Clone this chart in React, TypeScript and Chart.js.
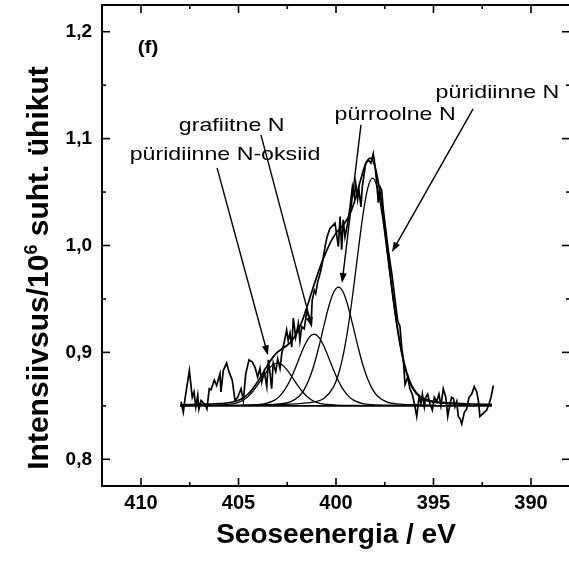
import React, { useEffect, useRef } from 'react';
import { Chart, registerables } from 'chart.js';

Chart.register(...registerables);

const FONT = '"Liberation Sans", Arial, Helvetica, sans-serif';

// Measured XPS N1s spectrum (binding energy, eV) and intensity (10^6 a.u.)
const spectrumEnergy = [
  407.95, 407.83, 407.74, 407.52, 407.37, 407.28, 407.19, 407.09, 407.03, 406.92,
  406.72, 406.62, 406.5, 406.41, 406.24, 406.12, 405.95, 405.9, 405.78, 405.61,
  405.49, 405.32, 405.18, 405.04, 404.87, 404.75, 404.63, 404.46, 404.29, 404.15,
  404.02, 403.9, 403.81, 403.68, 403.55, 403.47, 403.38, 403.3, 403.22, 403.09,
  402.99, 402.87, 402.78, 402.65, 402.53, 402.45, 402.36, 402.27, 402.19, 402.07,
  401.93, 401.85, 401.76, 401.63, 401.5, 401.38, 401.28, 401.22, 401.11, 401.04,
  400.94, 400.86, 400.77, 400.65, 400.56, 400.46, 400.31, 400.05, 399.88, 399.79,
  399.71, 399.63, 399.54, 399.4, 399.28, 399.16, 399.06, 398.99, 398.89, 398.82,
  398.72, 398.65, 398.55, 398.48, 398.34, 398.21, 398.09, 398.0, 397.91, 397.83,
  397.74, 397.66, 397.57, 397.49, 397.32, 397.14, 396.97, 396.84, 396.72, 396.63,
  396.55, 396.46, 396.32, 396.21, 396.09, 395.98, 395.86, 395.74, 395.64, 395.57,
  395.47, 395.4, 395.3, 395.18, 395.06, 394.96, 394.84, 394.72, 394.62, 394.5,
  394.37, 394.27, 394.15, 394.07, 393.98, 393.9, 393.81, 393.73, 393.64, 393.55,
  393.42, 393.3, 393.18, 393.04, 392.91, 392.78, 392.7, 392.62, 392.45, 392.27,
  392.15, 392.05, 391.93,
];
const spectrumIntensity = [
  0.854, 0.844, 0.857, 0.883, 0.858, 0.863, 0.849, 0.86, 0.847, 0.855,
  0.851, 0.847, 0.866, 0.865, 0.874, 0.869, 0.88, 0.863, 0.883, 0.89,
  0.882, 0.874, 0.855, 0.858, 0.866, 0.855, 0.88, 0.893, 0.891, 0.886,
  0.877, 0.885, 0.872, 0.882, 0.868, 0.893, 0.88, 0.866, 0.89, 0.882,
  0.894, 0.885, 0.899, 0.91, 0.921, 0.911, 0.918, 0.905, 0.932, 0.914,
  0.927, 0.911, 0.924, 0.922, 0.938, 0.933, 0.927, 0.949, 0.958, 0.955,
  0.966, 0.971, 0.977, 0.989, 0.999, 1.008, 1.016, 1.021, 0.999, 1.027,
  0.996, 1.024, 1.008, 1.021, 1.036, 1.055, 1.046, 1.058, 1.043, 1.052,
  1.036, 1.055, 1.068, 1.077, 1.08, 1.077, 1.086, 1.075, 1.058, 1.04,
  1.055, 1.052, 1.033, 1.021, 0.996, 0.974, 0.949, 0.93, 0.924, 0.905,
  0.893, 0.87, 0.877, 0.866, 0.861, 0.852, 0.84, 0.858, 0.852, 0.861,
  0.849, 0.858, 0.861, 0.852, 0.846, 0.858, 0.854, 0.861, 0.85, 0.866,
  0.858, 0.84, 0.852, 0.858, 0.857, 0.849, 0.854, 0.84, 0.838, 0.833,
  0.844, 0.847, 0.858, 0.861, 0.868, 0.863, 0.855, 0.84, 0.843, 0.846,
  0.852, 0.858, 0.869,
];

// Fit envelope
const envelopeEnergy = [
  408, 407.75, 407.5, 407.25, 407, 406.75, 406.5, 406.25, 406, 405.75,
  405.5, 405.25, 405, 404.75, 404.5, 404.25, 404, 403.75, 403.5, 403.25,
  403, 402.75, 402.5, 402.25, 402, 401.75, 401.5, 401.25, 401, 400.75,
  400.5, 400.25, 400, 399.75, 399.5, 399.25, 399, 398.75, 398.5, 398.25,
  398, 397.75, 397.5, 397.25, 397, 396.75, 396.5, 396.25, 396, 395.75,
  395.5, 395.25, 395, 394.75, 394.5, 394.25, 394, 393.75, 393.5, 393.25,
  393, 392.75, 392.5, 392.25, 392,
];
const envelopeIntensity = [
  0.851, 0.8511, 0.8512, 0.8513, 0.8514, 0.8515, 0.8516, 0.8518, 0.852, 0.8523,
  0.8529, 0.8538, 0.8552, 0.8576, 0.8613, 0.8665, 0.8731, 0.8806, 0.8883, 0.8951,
  0.9002, 0.9036, 0.9067, 0.9112, 0.9184, 0.9287, 0.9418, 0.9562, 0.9702, 0.983,
  0.9943, 1.004, 1.0114, 1.0169, 1.0224, 1.031, 1.0442, 1.0606, 1.0755, 1.0818,
  1.0737, 1.0504, 1.0164, 0.9783, 0.9423, 0.9122, 0.8898, 0.8746, 0.8653, 0.8598,
  0.8568, 0.8552, 0.8542, 0.8536, 0.8532, 0.8528, 0.8525, 0.8523, 0.8521, 0.8519,
  0.8517, 0.8516, 0.8515, 0.8514, 0.8513,
];

// Fit components
const oxideEnergy = [408, 407, 406, 405.5, 405, 404.75, 404.5, 404.25, 404, 403.75, 403.5, 403.25, 403, 402.75, 402.5, 402.25, 402, 401.75, 401.5, 401.25, 401, 400.5, 400, 399, 398];
const oxideIntensity = [0.8502, 0.8504, 0.8507, 0.8513, 0.8533, 0.8555, 0.859, 0.8639, 0.87, 0.8769, 0.8834, 0.8882, 0.89, 0.8882, 0.8834, 0.8769, 0.87, 0.8639, 0.859, 0.8555, 0.8533, 0.8513, 0.8507, 0.8504, 0.8502];

const graphiticEnergy = [406.125, 405.125, 404.125, 403.625, 403.125, 402.875, 402.625, 402.375, 402.125, 401.875, 401.625, 401.375, 401.125, 400.875, 400.625, 400.375, 400.125, 399.875, 399.625, 399.375, 399.125, 398.625, 398.125, 397.125, 396.125];
const graphiticIntensity = [0.8504, 0.8506, 0.8511, 0.8521, 0.8556, 0.8593, 0.8651, 0.8732, 0.8835, 0.895, 0.9059, 0.914, 0.917, 0.914, 0.9059, 0.895, 0.8835, 0.8732, 0.8651, 0.8593, 0.8556, 0.8521, 0.8511, 0.8506, 0.8504];

const pyrrolicEnergy = [404.875, 403.875, 402.875, 402.375, 401.875, 401.625, 401.375, 401.125, 400.875, 400.625, 400.375, 400.125, 399.875, 399.625, 399.375, 399.125, 398.875, 398.625, 398.375, 398.125, 397.875, 397.375, 396.875, 395.875, 394.875];
const pyrrolicIntensity = [0.8506, 0.851, 0.8519, 0.8535, 0.8592, 0.8654, 0.875, 0.8884, 0.9055, 0.9245, 0.9427, 0.956, 0.961, 0.956, 0.9427, 0.9245, 0.9055, 0.8884, 0.875, 0.8654, 0.8592, 0.8535, 0.8519, 0.851, 0.8506];

const pyridinicEnergy = [403.125, 402.125, 401.125, 400.625, 400.125, 399.875, 399.625, 399.375, 399.125, 398.875, 398.625, 398.375, 398.125, 397.875, 397.625, 397.375, 397.125, 396.875, 396.625, 396.375, 396.125, 395.625, 395.125, 394.125, 393.125];
const pyridinicIntensity = [0.8512, 0.8519, 0.8536, 0.8568, 0.8677, 0.8795, 0.8979, 0.9238, 0.9565, 0.993, 1.0278, 1.0535, 1.063, 1.0535, 1.0278, 0.993, 0.9565, 0.9238, 0.8979, 0.8795, 0.8677, 0.8568, 0.8536, 0.8519, 0.8512];

const baselineEnergy = [408, 392];
const baselineIntensity = [0.85, 0.85];

// Axis ticks
const xMajorTicks = [390, 395, 400, 405, 410];
const xMinorTicks = [392.5, 397.5, 402.5, 407.5];
const yMajorTicks = [0.8, 0.9, 1.0, 1.1, 1.2];
const yMinorTicks = [0.85, 0.95, 1.05, 1.15];

// Annotations (data coordinates)
const labelTexts = ['püridiinne N-oksiid', 'grafiitne N', 'pürroolne N', 'püridiinne N'];
const labelEnergy = [405.69, 405.35, 396.97, 391.72];
const labelIntensity = [1.0801, 1.1075, 1.1176, 1.1379];
const arrowFromEnergy = [406.1, 403.85, 398.72, 392.97];
const arrowFromIntensity = [1.0726, 1.1035, 1.1129, 1.1279];
const arrowToEnergy = [403.49, 401.23, 399.69, 397.13];
const arrowToIntensity = [0.8973, 0.9236, 0.9648, 0.9939];
const panelLabel = '(f)';
const panelEnergy = 409.64;
const panelIntensity = 1.1804;

const yTitleMain = 'Intensiivsus/10';
const yTitleSup = '6';
const yTitleRest = ' suht. ühikut';
const xTitle = 'Seoseenergia / eV';

const pts = (xs: number[], ys: number[]) => xs.map((x, i) => ({ x, y: ys[i] }));

const decorPlugin = {
  id: 'decor',
  afterDraw(chart: any) {
    const { ctx, chartArea: a, scales } = chart;
    const xs = scales.x;
    const ys = scales.y;
    ctx.save();
    ctx.strokeStyle = '#000';
    ctx.fillStyle = '#000';
    // frame
    ctx.lineWidth = 2;
    ctx.strokeRect(a.left, a.top, a.right - a.left, a.bottom - a.top);
    // ticks (inward)
    ctx.lineWidth = 1.6;
    const seg = (x1: number, y1: number, x2: number, y2: number) => {
      ctx.beginPath();
      ctx.moveTo(x1, y1);
      ctx.lineTo(x2, y2);
      ctx.stroke();
    };
    const xt = (vals: number[], len: number) =>
      vals.forEach((v) => {
        const p = xs.getPixelForValue(v);
        seg(p, a.bottom, p, a.bottom - len);
        seg(p, a.top, p, a.top + len);
      });
    const yt = (vals: number[], len: number) =>
      vals.forEach((v) => {
        const p = ys.getPixelForValue(v);
        seg(a.left, p, a.left + len, p);
        seg(a.right, p, a.right - len, p);
      });
    xt(xMajorTicks, 8);
    xt(xMinorTicks, 4);
    yt(yMajorTicks, 8);
    yt(yMinorTicks, 4);

    // arrows
    ctx.lineWidth = 1.4;
    for (let i = 0; i < arrowFromEnergy.length; i++) {
      const x1 = xs.getPixelForValue(arrowFromEnergy[i]);
      const y1 = ys.getPixelForValue(arrowFromIntensity[i]);
      const x2 = xs.getPixelForValue(arrowToEnergy[i]);
      const y2 = ys.getPixelForValue(arrowToIntensity[i]);
      const dx = x2 - x1;
      const dy = y2 - y1;
      const L = Math.hypot(dx, dy);
      const ux = dx / L;
      const uy = dy / L;
      const hl = 10;
      const hw = 3.5;
      seg(x1, y1, x2 - ux * hl * 0.6, y2 - uy * hl * 0.6);
      ctx.beginPath();
      ctx.moveTo(x2, y2);
      ctx.lineTo(x2 - ux * hl - uy * hw, y2 - uy * hl + ux * hw);
      ctx.lineTo(x2 - ux * hl + uy * hw, y2 - uy * hl - ux * hw);
      ctx.closePath();
      ctx.fill();
    }

    // labels
    ctx.textAlign = 'center';
    ctx.textBaseline = 'alphabetic';
    ctx.font = `19px ${FONT}`;
    for (let i = 0; i < labelTexts.length; i++) {
      const px = xs.getPixelForValue(labelEnergy[i]);
      const py = ys.getPixelForValue(labelIntensity[i]);
      ctx.save();
      ctx.translate(px, py);
      ctx.scale(1.22, 1);
      ctx.fillText(labelTexts[i], 0, 0);
      ctx.restore();
    }
    ctx.font = `bold 18px ${FONT}`;
    ctx.save();
    ctx.translate(xs.getPixelForValue(panelEnergy), ys.getPixelForValue(panelIntensity));
    ctx.scale(1.15, 1);
    ctx.fillText(panelLabel, 0, 0);
    ctx.restore();

    // y axis title with superscript
    ctx.save();
    ctx.translate(48, 268);
    ctx.rotate(-Math.PI / 2);
    ctx.textAlign = 'left';
    const mainFont = `bold 30px ${FONT}`;
    const supFont = `bold 18px ${FONT}`;
    ctx.font = mainFont;
    const w1 = ctx.measureText(yTitleMain).width;
    const w3 = ctx.measureText(yTitleRest).width;
    ctx.font = supFont;
    const w2 = ctx.measureText(yTitleSup).width;
    const total = w1 + w2 + w3;
    let sx = -total / 2;
    ctx.font = mainFont;
    ctx.fillText(yTitleMain, sx, 0);
    sx += w1;
    ctx.font = supFont;
    ctx.fillText(yTitleSup, sx, -11);
    sx += w2;
    ctx.font = mainFont;
    ctx.fillText(yTitleRest, sx, 0);
    ctx.restore();

    ctx.restore();
  },
};

export default function App() {
  const ref = useRef<HTMLCanvasElement>(null);
  useEffect(() => {
    const canvas = ref.current;
    if (!canvas) return;
    const lineBase = {
      borderColor: '#000',
      pointRadius: 0,
      fill: false,
    };
    const chart = new Chart(canvas, {
      type: 'line',
      data: {
        datasets: [
          { ...lineBase, data: pts(baselineEnergy, baselineIntensity), borderWidth: 1.7, tension: 0 },
          { ...lineBase, data: pts(oxideEnergy, oxideIntensity), borderWidth: 1.3, cubicInterpolationMode: 'monotone' },
          { ...lineBase, data: pts(graphiticEnergy, graphiticIntensity), borderWidth: 1.3, cubicInterpolationMode: 'monotone' },
          { ...lineBase, data: pts(pyrrolicEnergy, pyrrolicIntensity), borderWidth: 1.3, cubicInterpolationMode: 'monotone' },
          { ...lineBase, data: pts(pyridinicEnergy, pyridinicIntensity), borderWidth: 1.3, cubicInterpolationMode: 'monotone' },
          { ...lineBase, data: pts(envelopeEnergy, envelopeIntensity), borderWidth: 1.7, cubicInterpolationMode: 'monotone' },
          { ...lineBase, data: pts(spectrumEnergy, spectrumIntensity), borderWidth: 1.7, tension: 0 },
        ] as any,
      },
      options: {
        animation: false,
        responsive: false,
        devicePixelRatio: 1,
        events: [],
        layout: { padding: { left: 0, right: 10, top: 5, bottom: 0 } },
        plugins: { legend: { display: false }, tooltip: { enabled: false } },
        scales: {
          x: {
            type: 'linear',
            reverse: true,
            min: 388,
            max: 412,
            afterFit: (s: any) => {
              s.height = 84;
              s.paddingLeft = 0;
              s.paddingRight = 0;
            },
            grid: { display: false, drawTicks: false },
            border: { display: false },
            ticks: {
              stepSize: 5,
              includeBounds: false,
              autoSkip: false,
              maxRotation: 0,
              padding: 5,
              color: '#000',
              font: { family: FONT, size: 20, weight: 'bold' },
              callback: (v: any) => String(v),
            },
            title: {
              display: true,
              text: xTitle,
              color: '#000',
              font: { family: FONT, size: 28, weight: 'bold' },
              padding: { top: 0, bottom: 18 },
            },
          },
          y: {
            type: 'linear',
            min: 0.775,
            max: 1.225,
            afterFit: (s: any) => {
              s.width = 102;
              s.paddingTop = 0;
              s.paddingBottom = 0;
            },
            grid: { display: false, drawTicks: false },
            border: { display: false },
            ticks: {
              stepSize: 0.1,
              includeBounds: false,
              padding: 10,
              color: '#000',
              font: { family: FONT, size: 19, weight: 'bold' },
              callback: (v: any) => Number(v).toFixed(1).replace('.', ','),
            },
          },
        },
      } as any,
      plugins: [decorPlugin],
    });
    return () => chart.destroy();
  }, []);
  return (
    <div
      style={{
        position: 'absolute',
        left: 0,
        top: 0,
        width: 569,
        height: 570,
        overflow: 'hidden',
        background: '#fff',
      }}
    >
      <canvas ref={ref} width={580} height={570} style={{ display: 'block' }} />
    </div>
  );
}
